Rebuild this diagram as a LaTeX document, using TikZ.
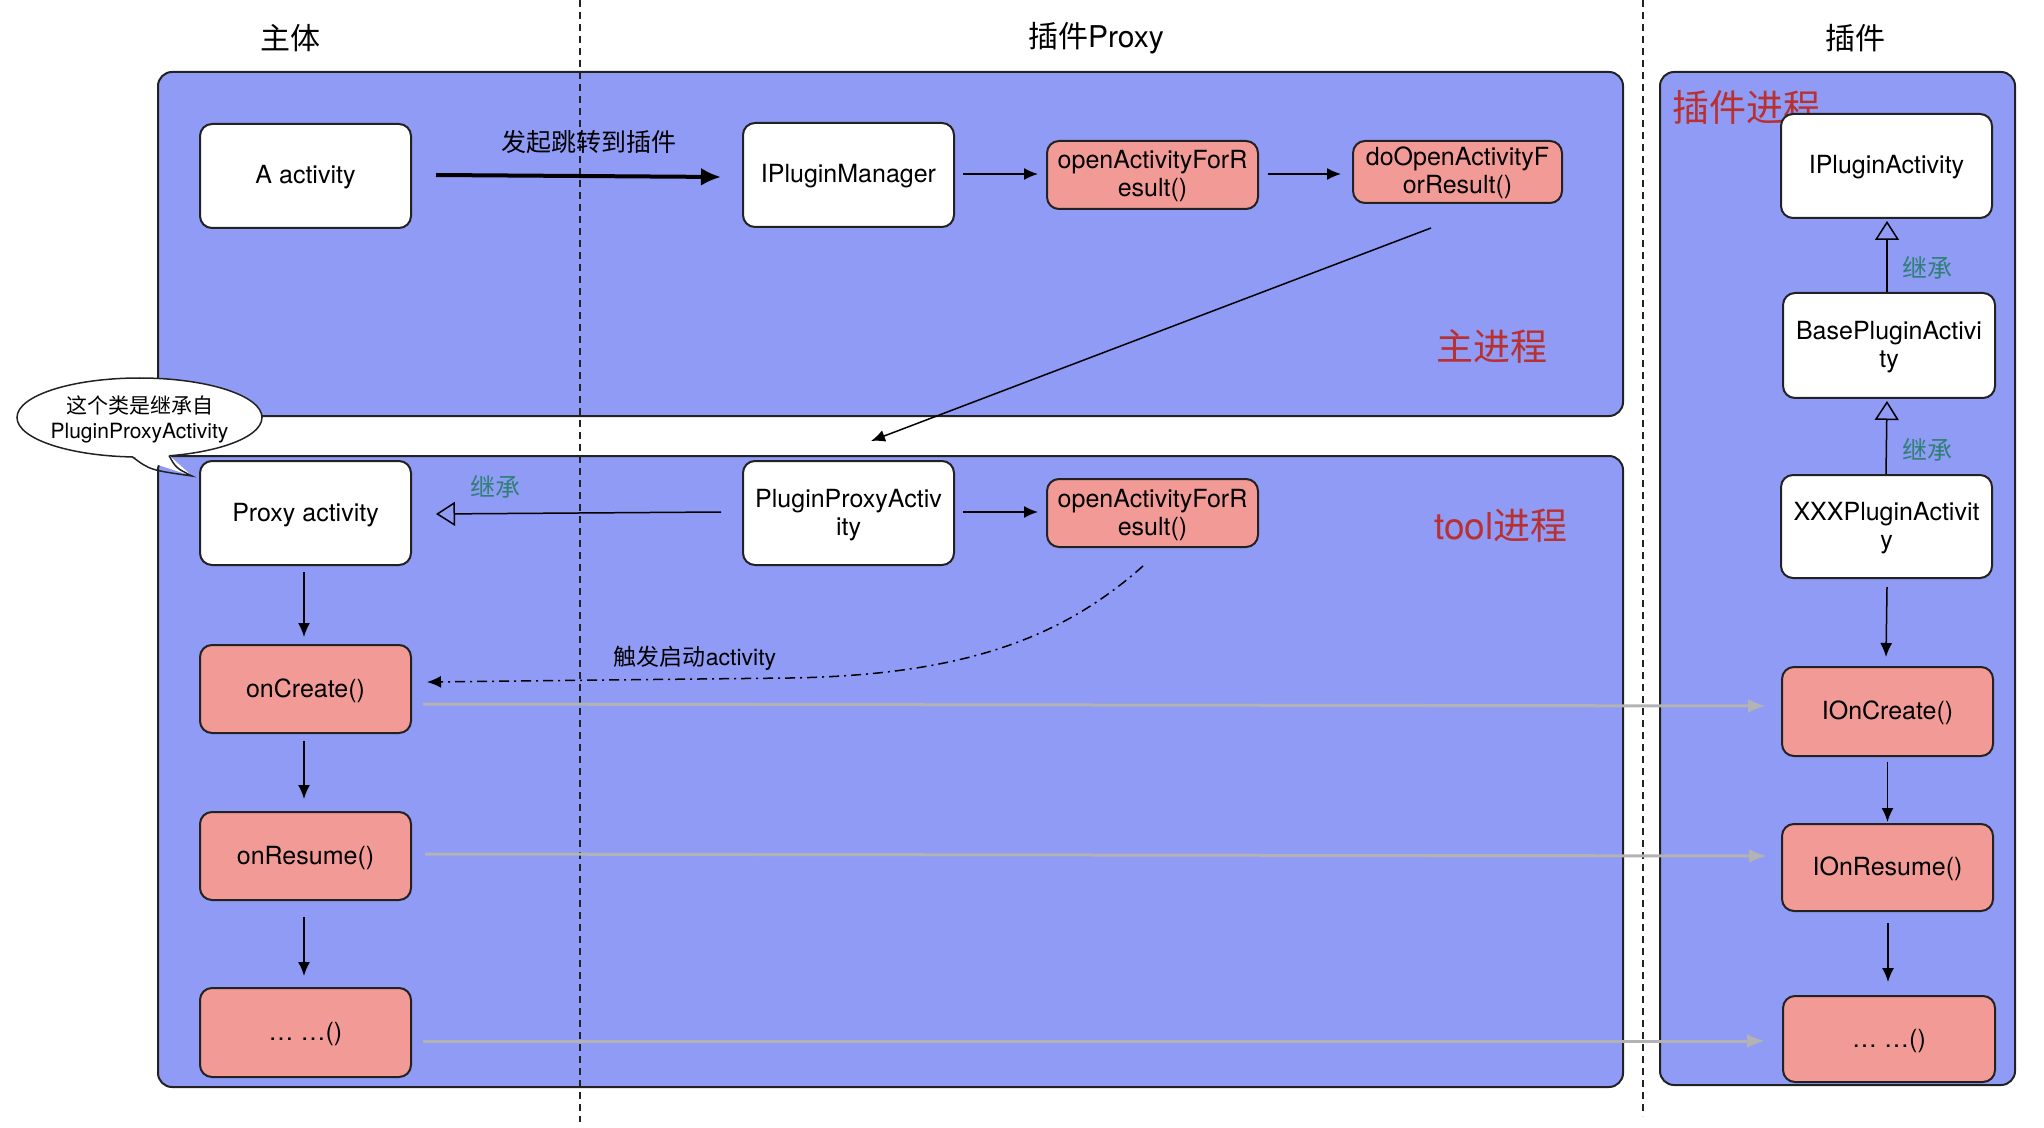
\documentclass[tikz,border=0pt]{standalone}
\usepackage{fontspec}
\setmainfont{TeX Gyre Heros}
\newfontfamily\cjk{Noto Sans CJK SC}
\usetikzlibrary{arrows.meta,calc}
\definecolor{procblue}{RGB}{143,155,245}
\definecolor{salmon}{RGB}{242,155,150}
\definecolor{redtxt}{RGB}{184,48,48}
\definecolor{tealtxt}{RGB}{47,128,116}
\definecolor{grayarr}{RGB}{179,179,179}
\definecolor{edge}{RGB}{34,34,34}
\newcommand\bt[1]{\raisebox{-1.2pt}[\height][\depth]{\begin{tabular}{@{}c@{}}#1\end{tabular}}}
\begin{document}
\begin{tikzpicture}[x=0.5pt,y=-0.5pt,
 container/.style={draw=edge, line width=1pt, fill=procblue, rounded corners=7pt, inner sep=0pt, outer sep=0pt},
 wbox/.style={draw=edge, line width=1pt, fill=white, rounded corners=6pt, minimum width=105.5pt, minimum height=52pt, inner sep=0pt, font=\fontsize{12.5}{14}\selectfont},
 pbox/.style={wbox, fill=salmon},
 title/.style={inner sep=0pt, font=\fontsize{15}{18}\selectfont},
 proclabel/.style={inner sep=0pt, text=redtxt, font=\fontsize{18.5}{22}\selectfont},
 inhlabel/.style={inner sep=0pt, text=tealtxt, font=\fontsize{12.5}{15}\selectfont\cjk},
 txtlabel/.style={inner sep=0pt, font=\fontsize{12.5}{15}\selectfont},
 flow/.style={draw=black, line width=0.75pt, -{Latex[length=7pt,width=6pt]}},
 bigflow/.style={draw=black, line width=2pt, -{Latex[length=10pt,width=9pt]}},
 inherit/.style={draw=black, line width=0.75pt, -{Triangle[open,length=9.5pt,width=12pt]}},
 callflow/.style={draw=grayarr, line width=1.5pt, -{Latex[length=9pt,width=7pt]}},
 trigger/.style={draw=black, line width=0.75pt, dash pattern=on 5pt off 2.5pt on 1pt off 2.5pt, -{Latex[length=7pt,width=6pt]}},
 lane/.style={draw=edge, line width=0.75pt, dash pattern=on 3.5pt off 2.5pt},
]
\useasboundingbox (0,0) rectangle (2044,1128);

% containers
\node[container, minimum width=732.5pt, minimum height=172pt] (mainproc) at (890.5,244) {};
\node[container, minimum width=732.5pt, minimum height=315.5pt] (toolproc) at (890.5,771.5) {};
\node[container, minimum width=177.5pt, minimum height=506.5pt] (plugproc) at (1837.5,578.5) {};

% titles
\node[title] (t1) at (290,38) {\cjk 主体};
\node[title] (t2) at (1096,38) {{\cjk 插件}Proxy};
\node[title] (t3) at (1855,38) {\cjk 插件};

% process labels
\node[proclabel] (lmain) at (1492,346) {\cjk 主进程};
\node[proclabel] (ltool) at (1501,526) {tool{\cjk 进程}};
\node[proclabel] (lplug) at (1746,107) {\cjk 插件进程};

% lanes
\draw[lane] (580,0) -- (580,1122);
\draw[lane] (1643,0) -- (1643,1116);

% boxes
\node[wbox] (aact) at (305.5,176) {\bt{A activity}};
\node[wbox] (ipm) at (848.5,175) {\bt{IPluginManager}};
\node[pbox, minimum height=34pt] (oafr1) at (1152.5,175) {\bt{openActivityForR\\esult()}};
\node[pbox, minimum height=31pt, minimum width=104.5pt] (doafr) at (1457.5,172) {\bt{doOpenActivityF\\orResult()}};

\node[wbox] (pact) at (305.5,513) {\bt{Proxy activity}};
\node[wbox] (ppa) at (848.5,513) {\bt{PluginProxyActiv\\ity}};
\node[pbox, minimum height=34pt] (oafr2) at (1152.5,513) {\bt{openActivityForR\\esult()}};
\node[pbox, minimum height=44pt] (oncreate) at (305.5,689) {\bt{onCreate()}};
\node[pbox, minimum height=44pt] (onresume) at (305.5,856) {\bt{onResume()}};
\node[pbox, minimum height=44.5pt] (dots1) at (305.5,1032.5) {\bt{… …()}};

\node[wbox] (ipa) at (1886.5,166) {\bt{IPluginActivity}};
\node[wbox, minimum width=106pt, minimum height=52.5pt] (base) at (1889,345.5) {\bt{BasePluginActivi\\ty}};
\node[wbox, minimum height=51.5pt] (xxx) at (1886.5,526.5) {\bt{XXXPluginActivit\\y}};
\node[pbox, minimum height=44.5pt] (ionc) at (1887.5,711.5) {\bt{IOnCreate()}};
\node[pbox, minimum height=43.5pt] (ionr) at (1887.5,867.5) {\bt{IOnResume()}};
\node[pbox, minimum width=106pt, minimum height=43pt] (dots2) at (1889,1039) {\bt{… …()}};

% main process flow
\draw[bigflow] ($(aact.east)+(24,-1)$) -- ($(ipm.west)+(-21,2)$);
\node[txtlabel] (jumplbl) at (589,142) {\cjk 发起跳转到插件};
\draw[flow] ($(ipm.east)+(8,-1)$) -- ($(oafr1.west)+(-8,-1)$);
\draw[flow] ($(oafr1.east)+(8.5,-1)$) -- ($(doafr.west)+(-11,2)$);
\draw[flow] ($(doafr.south)+(-26.5,24)$) -- ($(ppa.north)+(22.5,-19)$);

% tool process
\draw[inherit] ($(ppa.west)+(-21,-1)$) -- ($(pact.east)+(24,1)$);
\node[inhlabel] (inh1) at (495,487) {继承};
\draw[flow] ($(ppa.east)+(8,-1)$) -- ($(oafr2.west)+(-8,-1)$);
\draw[trigger] ($(oafr2.south)+(-9.5,18)$) .. controls (1060,640) and (960,675) .. (790,678) -- ($(oncreate.east)+(15,-7)$);
\node[txtlabel, font=\fontsize{11.5}{14}\selectfont] (triglbl) at (695,658) {{\cjk 触发启动}activity};
\draw[flow] ($(pact.south)+(-1.5,6)$) -- ($(oncreate.north)+(-1.5,-7)$);
\draw[flow] ($(oncreate.south)+(-1.5,7)$) -- ($(onresume.north)+(-1.5,-12)$);
\draw[flow] ($(onresume.south)+(-1.5,16)$) -- ($(dots1.north)+(-1.5,-11)$);

% plugin
\draw[inherit] ($(base.north)+(-2,0)$) -- ($(ipa.south)+(0.5,2)$);
\node[inhlabel] (inh2) at (1927,268) {继承};
\draw[inherit] ($(xxx.north)+(-0.5,0)$) -- ($(base.south)+(-2,2)$);
\node[inhlabel] (inh3) at (1927,450) {继承};
\draw[flow] ($(xxx.south)+(0.5,8)$) -- ($(ionc.north)+(-1.5,-9)$);
\draw[flow] ($(ionc.south)+(0,5)$) -- ($(ionr.north)+(0,-1)$);
\draw[flow] ($(ionr.south)+(0.5,11)$) -- ($(dots2.north)+(-1,-13)$);

% calls
\draw[callflow] ($(oncreate.east)+(11,15)$) -- ($(ionc.west)+(-15,-5.5)$);
\draw[callflow] ($(onresume.east)+(13,-2)$) -- ($(ionr.west)+(-14,-11.5)$);
\draw[callflow] ($(dots1.east)+(11,8.5)$) -- ($(dots2.west)+(-17,2)$);

% bubble
\draw[draw=edge, line width=0.75pt, fill=white] (139.5,417.5) ellipse [x radius=61.25pt, y radius=19.75pt];
\coordinate (tailtip) at (192,476);
\fill[white] (132,456.4) -- (tailtip) -- (169,455.3) -- (169,447) -- (132,447) -- cycle;
\draw[draw=edge, line width=0.75pt] (132,456.6) .. controls (150,470) .. (tailtip) .. controls (176,468) .. (169,455.6);
\node[inner sep=0pt, align=center, font=\fontsize{10.5}{12.5}\selectfont] (bubbletxt) at (139.5,419.5) {{\cjk 这个类是继承自}\\PluginProxyActivity};
\end{tikzpicture}
\end{document}
